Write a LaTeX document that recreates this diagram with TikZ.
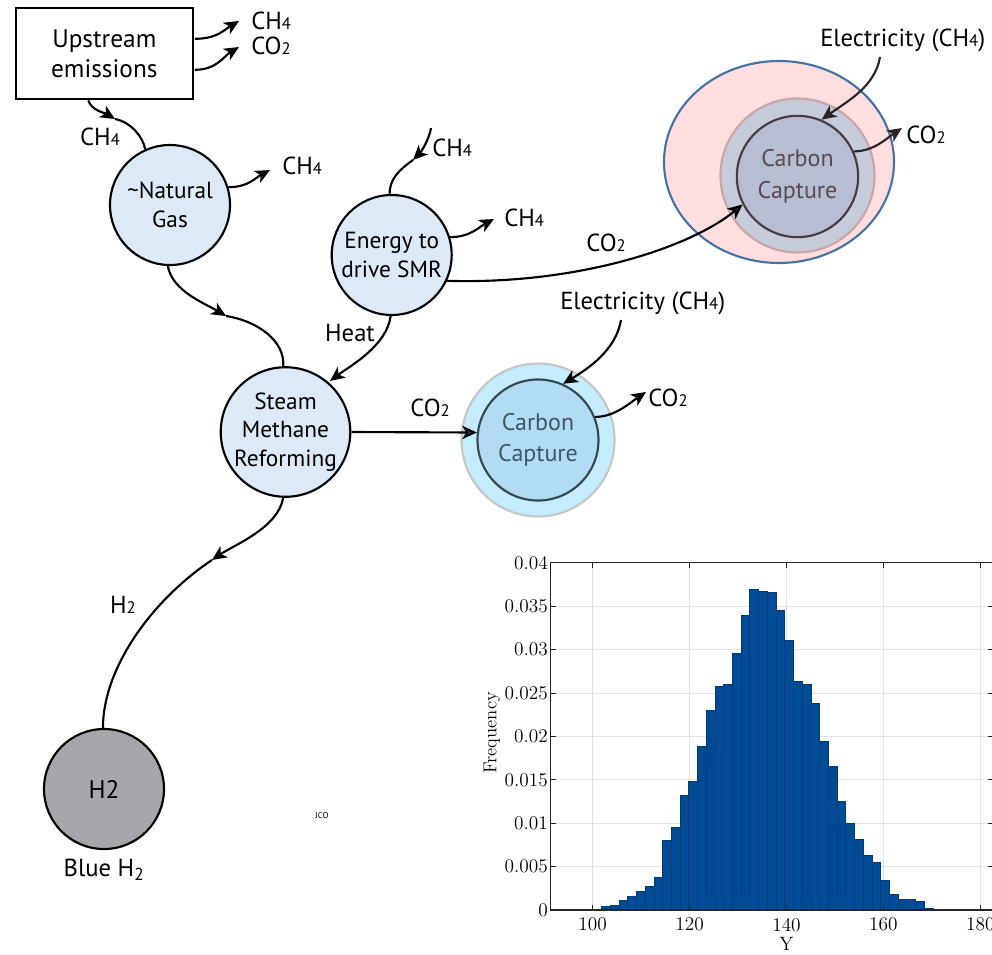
\documentclass[tikz,border=0pt]{standalone}
\usepackage{fontspec}
\newfontfamily\dfont{PT Sans}
\usetikzlibrary{shapes.geometric,arrows.meta,calc}
\definecolor{lblue}{HTML}{DDEAF6}
\definecolor{h2gray}{HTML}{A7A7AB}
\definecolor{pinkfill}{HTML}{FFDEE0}
\definecolor{ellblue}{HTML}{4673A0}
\definecolor{ringfill}{HTML}{C6CCDA}
\definecolor{ringrose}{HTML}{C8A6A8}
\definecolor{innerfill}{HTML}{B7BED1}
\definecolor{darkbrown}{HTML}{4A3B42}
\definecolor{cctextA}{HTML}{5A4B52}
\definecolor{cyanfill}{HTML}{C4ECFA}
\definecolor{cyanring}{HTML}{C6C6C6}
\definecolor{cyaninner}{HTML}{B1DCF1}
\definecolor{slate}{HTML}{37474F}
\definecolor{cctextB}{HTML}{3D5866}
\definecolor{barblue}{HTML}{004B96}
\definecolor{gridc}{HTML}{E2E2E2}
\definecolor{axisc}{HTML}{262626}
\newcommand{\lsub}[1]{{\fontsize{12.5}{12.5}\selectfont #1}}
\begin{document}
\begin{tikzpicture}[x=0.75pt,y=-0.75pt,
  proc/.style={circle, draw=black, line width=1.6pt, fill=lblue, minimum size=90pt,
    inner sep=0pt, align=center, font=\dfont\fontsize{17.5}{21.5}\selectfont},
  ring/.style={circle, line width=1.6pt, inner sep=0pt, align=center,
    font=\dfont\fontsize{18}{23.5}\selectfont},
  flow/.style={line width=1.6pt, -{Stealth[length=11pt,width=10pt,inset=3pt]}},
  plainline/.style={line width=1.6pt},
  lbl/.style={font=\dfont\fontsize{18.5}{21}\selectfont, inner sep=0pt},
  tick/.style={axisc, line width=0.5pt},
  gridline/.style={gridc, line width=0.6pt}]
\useasboundingbox (0,0) rectangle (992,954);

% ---------- nodes ----------
\node[draw, line width=1.6pt, minimum width=132.75pt, minimum height=68.25pt,
  align=center, inner sep=0pt, font=\dfont\fontsize{19}{22.5}\selectfont] (up) at (104.3,53.8) {Upstream\\emissions};
\node[proc] (ng) at (170,205) {\textasciitilde Natural\\Gas};
\node[proc] (en) at (391.7,255) {Energy to\\drive SMR};
\node[proc] (smr) at (285.5,432) {Steam\\Methane\\Reforming};
\node[proc, fill=h2gray, font=\dfont\fontsize{19}{21}\selectfont] (h2) at (104,789) {H2};

\node[ellipse, draw=ellblue, fill=pinkfill, line width=1.6pt, minimum width=172.5pt,
  minimum height=151.5pt] (cto) at (779,162) {};
\node[ring, draw=ringrose, fill=ringfill, minimum size=115.5pt] (ctm) at (797.5,175.5) {};
\node[ring, draw=darkbrown, fill=innerfill, minimum size=91pt, text=cctextA] (cti) at (797.5,176.5) {Carbon\\Capture};

\node[ring, draw=cyanring, fill=cyanfill, minimum size=114.75pt] (cmo) at (538,440) {};
\node[ring, draw=slate, fill=cyaninner, minimum size=90.75pt, text=cctextB] (cmi) at (538,440) {Carbon\\Capture};

% ---------- labels ----------
\node[lbl, anchor=west] (l1) at (251,21) {CH\lsub{4}};
\node[lbl, anchor=west] (l2) at (251,46) {CO\lsub{2}};
\node[lbl] (l3) at (100,137) {CH\lsub{4}};
\node[lbl, anchor=west] (l4) at (282,166) {CH\lsub{4}};
\node[lbl, anchor=west] (l5) at (432,148) {CH\lsub{4}};
\node[lbl, anchor=west] (l6) at (504,218) {CH\lsub{4}};
\node[lbl] (l7) at (606,243) {CO\lsub{2}};
\node[lbl] (l8) at (350,333) {Heat};
\node[lbl] (l9) at (430,408) {CO\lsub{2}};
\node[lbl, anchor=west] (l10) at (560,303) {Electricity (CH\lsub{4})};
\node[lbl, anchor=west] (l11) at (648,398) {CO\lsub{2}};
\node[lbl, anchor=west] (l12) at (820,40) {Electricity (CH\lsub{4})};
\node[lbl, anchor=west] (l13) at (906,135) {CO\lsub{2}};
\node[lbl] (l14) at (123,605) {H\lsub{2}};
\node[lbl, font=\dfont\fontsize{18.5}{21}\selectfont] (blue) at (104,870) {Blue H\textsubscript{2}};
\node[inner sep=0pt, font=\dfont\fontsize{6.5}{7}\selectfont] (jco) at (322,815) {JCO};

% ---------- free coordinates ----------
\coordinate (t1) at (239,21);
\coordinate (t2) at (239,47);
\coordinate (m1) at (115,119);
\coordinate (t4) at (270,170);
\coordinate (m2) at (226,316);
\coordinate (s5) at (431,128);
\coordinate (m3) at (413,160);
\coordinate (t6) at (494,219);
\coordinate (t9) at (330,381);
\coordinate (s10) at (621,320);
\coordinate (t11) at (646,392);
\coordinate (m4) at (212,560);
\coordinate (s12) at (880,57);
\coordinate (t13) at (902,128);

% ---------- connectors ----------
\draw[flow] ($(up.east)+(1,-15)$) .. controls +(22,0) and +(-15,9) .. (t1);
\draw[flow] ($(up.east)+(1,16)$) .. controls +(22,0) and +(-15,9) .. (t2);
\draw[flow] ($(up.south)+(-16,0)$) .. controls +(3,10) and +(-10,-6) .. (m1);
\draw[plainline] (m1) .. controls +(16,3) and +(-2,-12) .. (ng.114);
\draw[flow] (ng.17) .. controls +(20,0) and +(-15,8) .. (t4);
\draw[flow] (ng.268) .. controls +(4,25) and +(-20,-12) .. (m2);
\draw[plainline] (m2) .. controls +(32,5) and +(2,-25) .. (smr.92);
\draw[flow] (s5) .. controls +(-2,12) and +(8,-8) .. (m3);
\draw[plainline] (m3) .. controls +(-14,10) and +(0,-15) .. (en.92);
\draw[flow] (en.17) .. controls +(20,0) and +(-15,8) .. (t6);
\draw[plainline, -{Stealth[length=11pt,width=10pt,inset=3pt,fill=darkbrown!80!black]}]
  (en.-25) .. controls +(130,4) and +(-52,43) .. (cti.207);
\draw[flow] (en.269) .. controls +(-4,30) and +(20,-15) .. (t9);
\draw[plainline, -{Stealth[length=11pt,width=10pt,inset=3pt,fill=slate]}] (smr.0) -- (cmi.173);
\draw[flow] (s10) .. controls +(-5,30) and +(25,-15) .. (cmi.66);
\draw[flow] (cmi.22) .. controls +(20,0) and +(-15,10) .. (t11);
\draw[flow] (smr.268) .. controls +(-5,30) and +(22,-15) .. (m4);
\draw[plainline] (m4) .. controls +(-60,40) and +(0,-60) .. (h2.91);
\draw[flow, draw=darkbrown!60!black] (s12) .. controls +(-5,30) and +(25,-18) .. (cti.67);
\draw[flow, draw=darkbrown!60!black] (cti.24) .. controls +(20,0) and +(-15,10) .. (t13);

% ---------- histogram ----------
\begin{scope}[shift={(592.7,910)}, xscale=4.845, yscale=-8.6825]
  \foreach \u in {0,20,40,60,80} \draw[gridline] (\u,0) -- (\u,40);
  \foreach \f in {5,10,...,35} \draw[gridline] (-8.67,\f) -- (82.7,\f);
  \foreach \h [count=\i from 0] in {0.1,0.03,0.03,0.03,0.1,0.46,0.58,1.15,1.54,2.2,2.7,3.8,8.0,9.56,13.2,14.8,18.9,23.0,25.8,26.0,29.6,33.9,36.9,36.7,36.6,34.5,31.1,26.4,26.0,23.8,19.5,16.6,12.5,10.0,8.1,6.3,5.5,3.4,1.8,1.2,1.3,1.0,0.2,0.1,0.15,0.1,0,0,0.1}
    \filldraw[fill=barblue, draw=barblue!80!black, line width=0.3pt] ({-7.2+1.8*\i},0) rectangle ++(1.8,\h);
  \draw[axisc, line width=0.8pt] (82.7,40) -- (-8.67,40) -- (-8.67,0) -- (82.7,0);
  \foreach \u in {0,20,40,60,80} {
    \draw[tick] (\u,0) -- (\u,0.6);
    \draw[tick] (\u,40) -- (\u,39.4);
    \node[anchor=north, inner sep=0pt, font=\fontsize{14.5}{16}\selectfont] at (\u,-0.9) {\the\numexpr\u+100\relax};
  }
  \foreach \f/\t in {0/0,5/0.005,10/0.01,15/0.015,20/0.02,25/0.025,30/0.03,35/0.035,40/0.04} {
    \draw[tick] (-8.67,\f) -- (-7.64,\f);
    \draw[tick] (82.7,\f) -- (81.67,\f);
    \node[anchor=east, inner sep=0pt, font=\fontsize{14.5}{16}\selectfont] at (-9.2,\f) {\t};
  }
  \node[rotate=90, inner sep=0pt, font=\fontsize{14}{16}\selectfont] (ylab) at (-20.8,20.4) {Frequency};
  \node[inner sep=0pt, font=\fontsize{14.5}{16}\selectfont] (xlab) at (40,-3.9) {Y};
\end{scope}
\end{tikzpicture}
\end{document}
